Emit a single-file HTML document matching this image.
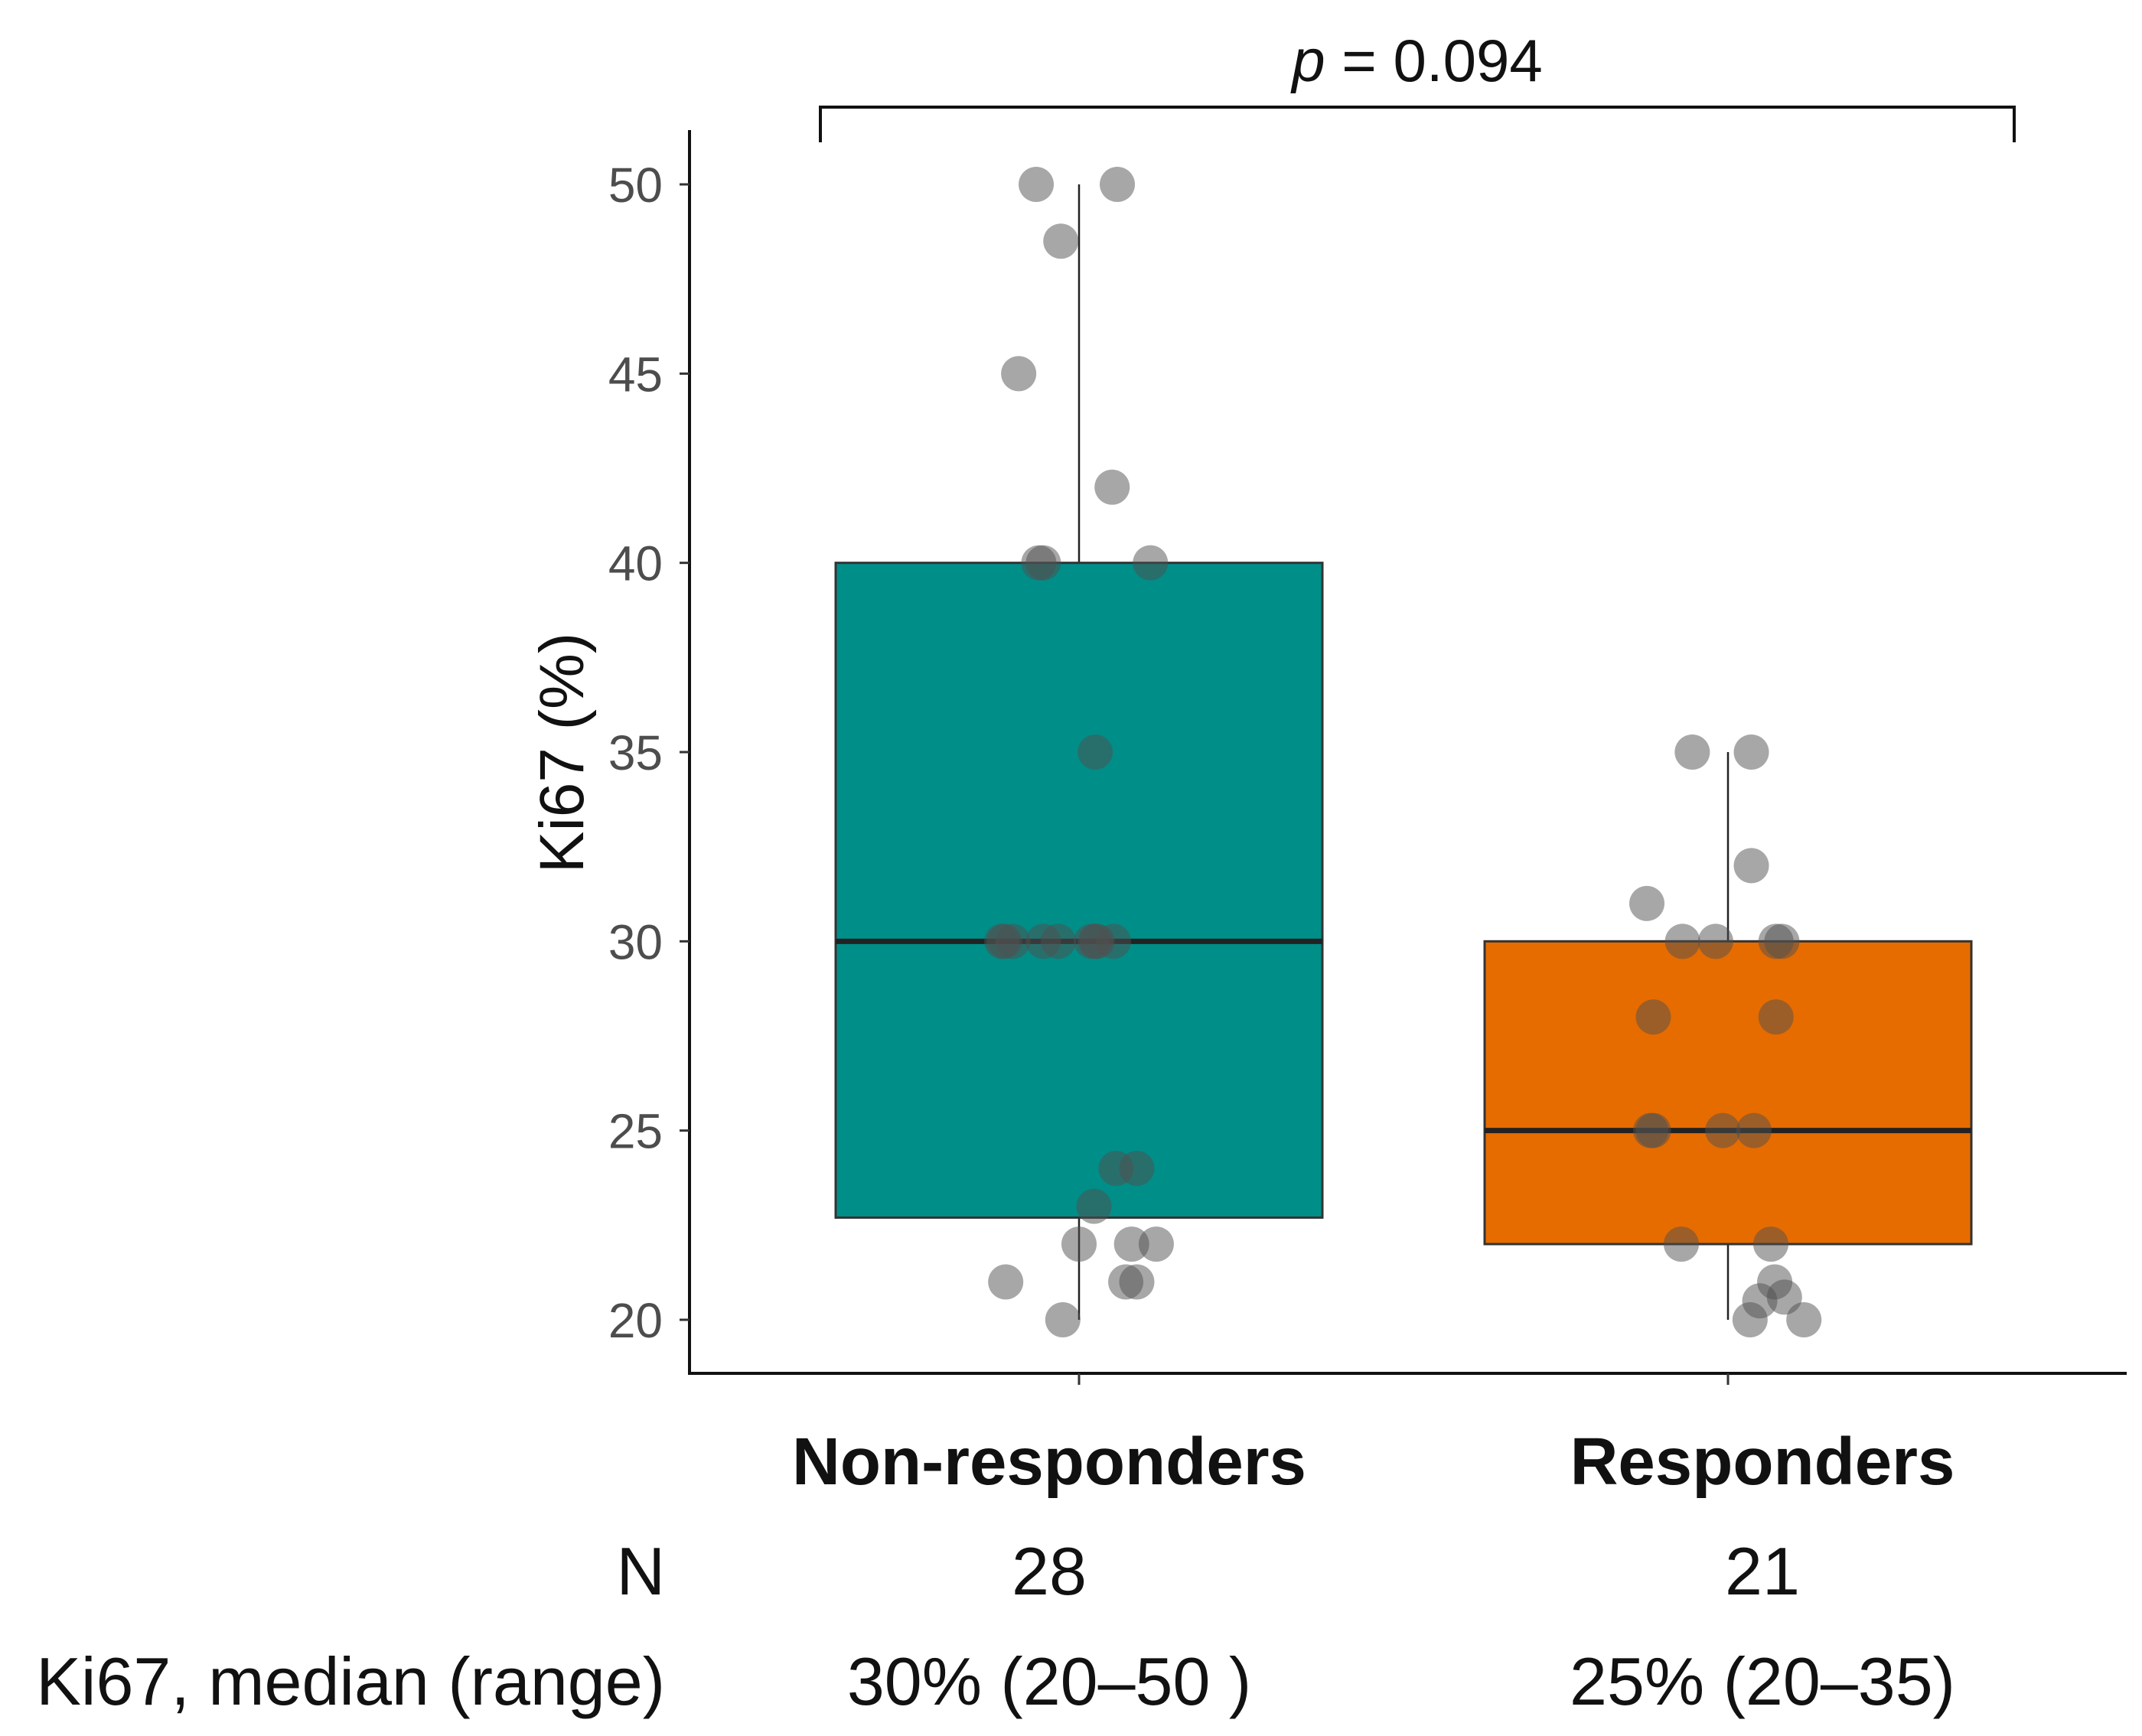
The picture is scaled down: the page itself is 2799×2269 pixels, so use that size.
<!DOCTYPE html>
<html><head><meta charset="utf-8"><style>
html,body{margin:0;padding:0;background:#fff;}
svg{display:block;font-family:"Liberation Sans",Arial,sans-serif;}
</style></head><body>
<svg id="chart" width="2799" height="2269" viewBox="0 0 2799 2269"></svg>
<script>
const categories=["Non-responders","Responders"];
const counts=["28","21"];
const medianLabels=["30% (20\u201350 )","25% (20\u201335)"];
const boxQ1=[22.7,22];
const boxMedian=[30,25];
const boxQ3=[40,30];
const whiskerLow=[20,20];
const whiskerHigh=[50,35];
const yTicks=[20,25,30,35,40,45,50];
const nrValues=[50,50,48.5,45,42,40,40,40,35,30,30,30,30,30,30,30,30,30,24,24,23,22,22,22,21,21,21,20];
const nrJitter=[-0.066,0.059,-0.028,-0.093,0.051,-0.062,-0.055,0.110,0.025,-0.119,-0.102,-0.055,-0.032,0.019,0.025,0.053,-0.115,0.028,0.057,0.089,0.023,0.000,0.081,0.119,-0.113,0.072,0.089,-0.025];
const rValues=[35,35,32,31,30,30,30,30,28,28,25,25,25,25,22,22,21,20.5,20.6,20,20];
const rJitter=[-0.055,0.036,0.036,-0.125,-0.070,-0.019,0.074,0.083,-0.115,0.074,-0.119,-0.115,-0.008,0.040,-0.072,0.066,0.072,0.049,0.087,0.034,0.117];
const pLabel="0.094";

const NS="http://www.w3.org/2000/svg";
const svg=document.getElementById('chart');
const y=v=>1725-(v-20)*(1725-241)/30;
const xc=i=>1410+i*848;
const labelX=[1371,2303];
const halfW=318;
function mk(tag,attrs,parent){const e=document.createElementNS(NS,tag);for(const k in attrs)e.setAttribute(k,attrs[k]);(parent||svg).appendChild(e);return e;}
const fills=["#008e89","#e66c00"];
for(let i=0;i<2;i++){
  const w=mk('line',{x1:xc(i),x2:xc(i),y1:y(whiskerLow[i]),y2:y(whiskerHigh[i]),stroke:'#222','stroke-width':2.5});
  
  
  const b=mk('rect',{x:xc(i)-halfW,y:y(boxQ3[i]),width:2*halfW,height:y(boxQ1[i])-y(boxQ3[i]),fill:fills[i],stroke:'#333','stroke-width':3});
  
  
  const m=mk('line',{x1:xc(i)-halfW,x2:xc(i)+halfW,y1:y(boxMedian[i]),y2:y(boxMedian[i]),stroke:'#222','stroke-width':7});
  
  
}
const sets=[[nrValues,nrJitter],[rValues,rJitter]];
sets.forEach(([vals,jit],i)=>{vals.forEach((v,k)=>{
  const c=mk('circle',{cx:xc(i)+jit[k]*848,cy:y(v),r:23,fill:'rgba(80,80,80,0.5)'});
  
  
});});
const ya=mk('line',{x1:901,x2:901,y1:170,y2:1797,stroke:'#111','stroke-width':4});


const xa=mk('line',{x1:899,x2:2779,y1:1795,y2:1795,stroke:'#111','stroke-width':4});


yTicks.forEach(t=>{
  const tk=mk('line',{x1:888,x2:901,y1:y(t),y2:y(t),stroke:'#333','stroke-width':3});
  
  
  const tl=mk('text',{x:866,y:y(t)+23,'text-anchor':'end','font-size':64,fill:'#4d4d4d'});
  tl.textContent=t;
  
  
});
categories.forEach((c,i)=>{
  const tk=mk('line',{x1:xc(i),x2:xc(i),y1:1795,y2:1810,stroke:'#333','stroke-width':3});
  
  
  const t=mk('text',{x:labelX[i],y:1940,'text-anchor':'middle','font-size':87,'font-weight':'bold',fill:'#111'});
  t.textContent=c;
  
  
  const n=mk('text',{x:labelX[i],y:2084,'text-anchor':'middle','font-size':88,fill:'#111'});
  n.textContent=counts[i];
  
  
  const md=mk('text',{x:labelX[i],y:2228,'text-anchor':'middle','font-size':88,fill:'#111'});
  md.textContent=medianLabels[i];
  
  
});
const yt=mk('text',{x:0,y:0,transform:'translate(762,984) rotate(-90)','text-anchor':'middle','font-size':82,fill:'#111'});
yt.textContent='Ki67 (%)';


const nl=mk('text',{x:869,y:2084,'text-anchor':'end','font-size':88,fill:'#111'});
nl.textContent='N';


const ml=mk('text',{x:869,y:2228,'text-anchor':'end','font-size':88,fill:'#111'});
ml.textContent='Ki67, median (range)';


const br=mk('polyline',{points:'1072,186 1072,140 2632,140 2632,186',fill:'none',stroke:'#111','stroke-width':4});


const pt=mk('text',{x:1852,y:106,'text-anchor':'middle','font-size':78,fill:'#111'});
pt.innerHTML='<tspan font-style="italic">p</tspan> = '+pLabel;


</script>
</body></html>
